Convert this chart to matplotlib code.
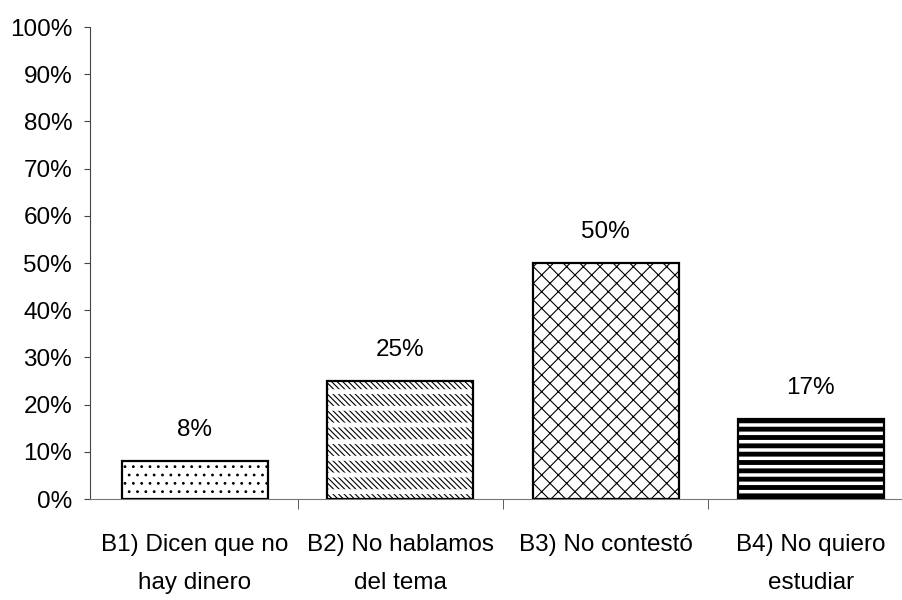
import numpy as np
import matplotlib.pyplot as plt
from matplotlib.ticker import FixedLocator, PercentFormatter

plt.rcParams['font.family'] = ['Liberation Sans', 'DejaVu Sans']

categorias = ['B1) Dicen que no\nhay dinero', 'B2) No hablamos\ndel tema',
              'B3) No contestó', 'B4) No quiero\nestudiar']
valores = [8, 25, 50, 17]
tramas = ['..', '\\\\\\\\\\\\', 'xx', '--']

fig = plt.figure(figsize=(9.02, 6), dpi=100)
ax = fig.add_axes([90 / 902, 101 / 600, 812 / 902, 472 / 600])

x = np.arange(len(categorias))
ancho = 0.711
barras = ax.bar(x, valores, width=ancho, color='white', edgecolor='black',
                linewidth=0, zorder=2)
for b, h in zip(barras, tramas):
    b.set_hatch(h)
    b.set_hatch_linewidth(3.5 if h == '--' else 0.8)

# rows of short dashes for B2: break the diagonal hatch with white bands
corte = ax.bar([x[1]], [valores[1]], width=ancho, facecolor='none',
               edgecolor='white', linewidth=0, hatch='-', zorder=3)
corte[0].set_hatch_linewidth(3.5)

# outlines on top
ax.bar(x, valores, width=ancho, facecolor='none', edgecolor='black',
       linewidth=1.6, zorder=4)

fs = 17.5
for xi, v in zip(x, valores):
    ax.annotate(f'{v}%', (xi, v), xytext=(0, 18), textcoords='offset points',
                ha='center', va='baseline', fontsize=fs)

ax.set_xlim(-0.511, 3.444)
ax.set_ylim(0, 100)
ax.set_yticks(np.arange(0, 101, 10))
ax.yaxis.set_major_formatter(PercentFormatter(decimals=0))
ax.set_xticks(x)
ax.set_xticklabels(categorias, fontsize=fs, linespacing=1.95)
ax.xaxis.set_minor_locator(FixedLocator([0.5, 1.5, 2.5]))
ax.tick_params(axis='x', which='major', length=0, pad=25)
ax.tick_params(axis='x', which='minor', length=7, color='#444444')
ax.tick_params(axis='y', labelsize=fs, length=4.3, pad=8.5, color='#444444')

for s in ['top', 'right']:
    ax.spines[s].set_visible(False)
ax.spines['left'].set_color('#444444')
ax.spines['bottom'].set_color('#777777')

fig.savefig('out.png', dpi=100)
